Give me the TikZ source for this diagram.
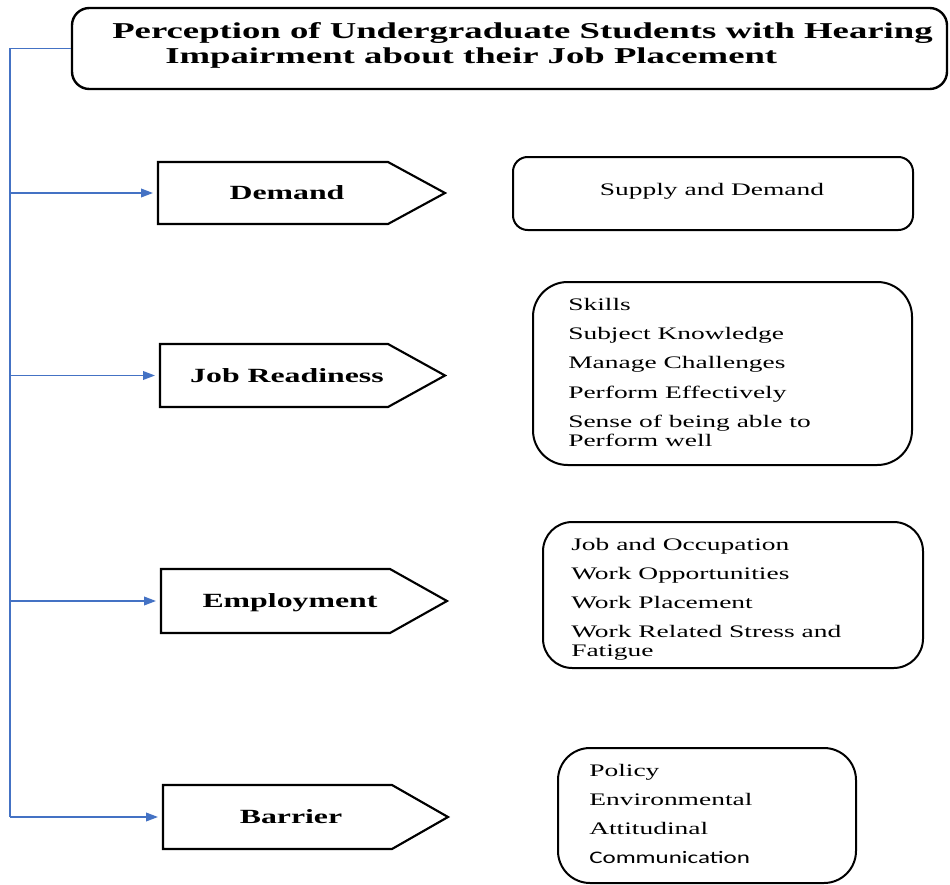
\documentclass[tikz,border=0pt]{standalone}
\usepackage{fontspec}
\setmainfont{Liberation Serif}
\newfontfamily\titlefont[FakeStretch=1.62]{Liberation Serif}
\newfontfamily\labelfont[FakeStretch=1.58]{Liberation Serif}
\newfontfamily\bodyfont[FakeStretch=1.56]{Liberation Serif}
\newfontfamily\sansbody[FakeStretch=1.42]{Carlito}
\usetikzlibrary{arrows.meta}
\definecolor{linkblue}{RGB}{68,114,196}
\begin{document}
\begin{tikzpicture}[x=0.75pt,y=-0.75pt,
  titlebox/.style={draw, line width=1.8pt, rounded corners=13pt, minimum width=656.25pt, minimum height=60.75pt, inner sep=0pt},
  listbox/.style={draw, line width=1.5pt, inner sep=0pt},
  pentshape/.style={draw, line width=1.6pt, line join=miter},
  conn/.style={draw=linkblue, line width=1.2pt, -{Triangle[length=9pt,width=6.5pt]}},
  spine/.style={draw=linkblue, line width=1.2pt},
  titletext/.style={font=\titlefont\bfseries\fontsize{17}{20}\selectfont, anchor=base west, inner sep=0pt},
  lbl/.style={font=\labelfont\bfseries\fontsize{15.1}{18}\selectfont, anchor=base, inner sep=0pt},
  item/.style={font=\bodyfont\fontsize{13.2}{15}\selectfont, anchor=base west, inner sep=0pt},
  sitem/.style={font=\sansbody\fontsize{13.2}{15}\selectfont, anchor=base west, inner sep=0pt}]
\path[fill=white] (0,0) rectangle (950,885);
\useasboundingbox (0,0) rectangle (950,885);

% title
\node[titlebox] (title) at (509.5,48.5) {};
\node[titletext] (t1) at (112,38) {Perception of Undergraduate Students with Hearing};
\node[titletext] (t2) at (165,63) {Impairment about their Job Placement};

% pentagons
\draw[pentshape] (158,162) -- (388,162) -- (445,193) -- (388,224) -- (158,224) -- cycle;
\draw[pentshape] (160,344) -- (388,344) -- (445,375.5) -- (388,407) -- (160,407) -- cycle;
\draw[pentshape] (161,569) -- (390,569) -- (447,601) -- (390,633) -- (161,633) -- cycle;
\draw[pentshape] (163,785) -- (392,785) -- (448,817) -- (392,849) -- (163,849) -- cycle;
\node[lbl] (dem) at (287,199.5) {Demand};
\node[lbl] (jr) at (287,382) {Job Readiness};
\node[lbl] (emp) at (290,607.5) {Employment};
\node[lbl] (bar) at (291,823.5) {Barrier};

% arrow targets
\coordinate (demL) at (153,193);
\coordinate (jrL) at (155,375.5);
\coordinate (empL) at (156,601);
\coordinate (barL) at (158,817);

% spine
\coordinate (sp0) at (10,48.5);
\coordinate (sp1) at (10,193);
\coordinate (sp2) at (10,375.5);
\coordinate (sp3) at (10,601);
\coordinate (sp4) at (10,817);
\draw[spine] (title.west) -- (sp0) -- (sp4);
\draw[conn] (sp1) -- (demL);
\draw[conn] (sp2) -- (jrL);
\draw[conn] (sp3) -- (empL);
\draw[conn] (sp4) -- (barL);

% right boxes
\node[listbox, rounded corners=11pt, minimum width=300pt, minimum height=54.75pt] (supbox) at (713,193.5) {};
\node[item, anchor=base] (sup) at (712,195) {Supply and Demand};

\node[listbox, rounded corners=26pt, minimum width=284.25pt, minimum height=137.25pt] (jrbox) at (722.5,373.5) {};
\node[item] (jr1) at (568,310) {Skills};
\node[item] (jr2) at (568,339) {Subject Knowledge};
\node[item] (jr3) at (568,368) {Manage Challenges};
\node[item] (jr4) at (568,398) {Perform Effectively};
\node[item] (jr5) at (568,427) {Sense of being able to};
\node[item] (jr6) at (568,446) {Perform well};

\node[listbox, rounded corners=22pt, minimum width=285pt, minimum height=109.5pt] (empbox) at (733,595) {};
\node[item] (em1) at (571,550) {Job and Occupation};
\node[item] (em2) at (571,579) {Work Opportunities};
\node[item] (em3) at (571,608) {Work Placement};
\node[item] (em4) at (571,637) {Work Related Stress and};
\node[item] (em5) at (571,656) {Fatigue};

\node[listbox, rounded corners=24pt, minimum width=223.5pt, minimum height=101.25pt] (barbox) at (707,815.5) {};
\node[item] (ba1) at (589,776) {Policy};
\node[item] (ba2) at (589,805) {Environmental};
\node[item] (ba3) at (589,834) {Attitudinal};
\node[sitem] (ba4) at (589,863) {Communication};
\end{tikzpicture}
\end{document}
